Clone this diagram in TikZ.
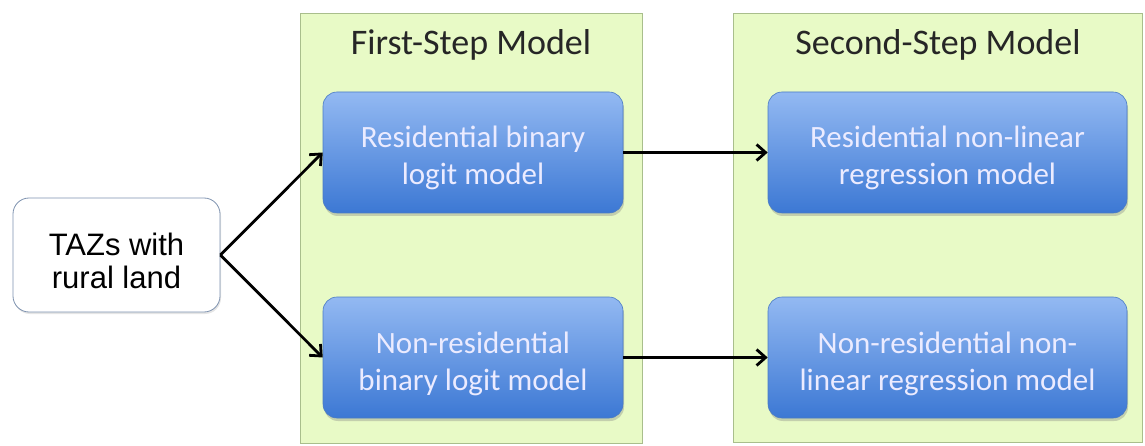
\documentclass[tikz,border=0pt]{standalone}
\usepackage{fontspec}
\setmainfont{Carlito}
\newfontfamily\arialfont{Liberation Sans}
\usetikzlibrary{arrows.meta,shadows}
\definecolor{grnfill}{HTML}{E8FAC6}
\definecolor{grnline}{HTML}{A9BE8C}
\definecolor{bluetop}{HTML}{93B9F2}
\definecolor{bluebot}{HTML}{3C78D4}
\definecolor{blueline}{HTML}{4A7BC4}
\definecolor{tazline}{HTML}{7F93B0}
\tikzset{
  panel/.style={draw=grnline, fill=grnfill, line width=0.8pt},
  model/.style={draw=blueline, line width=0.6pt, rounded corners=14pt,
    top color=bluetop, bottom color=bluebot,
    drop shadow={shadow xshift=1pt, shadow yshift=-3pt, opacity=0.35},
    text=white!92!blue, font=\fontsize{31}{37}\selectfont, align=center,
    text height=65pt, text depth=0pt,
    minimum width=300pt, minimum height=121pt, inner sep=0pt},
  taz/.style={draw=tazline, fill=white, line width=0.8pt, rounded corners=16pt,
    font=\arialfont\fontsize{31}{33}\selectfont, align=center,
    text height=66pt, text depth=0pt,
    minimum width=207pt, minimum height=114pt, inner sep=0pt,
    drop shadow={shadow xshift=1pt, shadow yshift=-2pt, opacity=0.2}},
  title/.style={font=\fontsize{36}{42}\selectfont, text=black!85},
  link/.style={-{Straight Barb[length=9pt,width=16pt,line width=2.8pt]}, line width=2.8pt, black}
}
\begin{document}
\begin{tikzpicture}[x=1pt,y=-1pt]
\useasboundingbox (0,0) rectangle (1145,446);
\fill[white] (0,0) rectangle (1145,446);
\draw[panel] (300,13) rectangle (642,443);
\draw[panel] (733,13) rectangle (1142,442);
\node[title] (t1) at (471,45) {First-Step Model};
\node[title] (t2) at (938,45) {Second-Step Model};
\node[taz] (taz) at (116.5,255) {TAZs with\\rural land};
\node[model] (rb) at (473,152.5) {Residential binary\\logit model};
\node[model] (nb) at (473,357.5) {Non-residential\\binary logit model};
\node[model, minimum width=359pt] (rr) at (947.5,152.5) {Residential non-linear\\regression model};
\node[model, minimum width=359pt] (nr) at (947.5,357.5) {Non-residential non-\\linear regression model};
\coordinate (split) at (taz.east);
\draw[link] (split) -- (rb.west);
\draw[link] (split) -- (nb.west);
\draw[link] (rb.east) -- (rr.west);
\draw[link] (nb.east) -- (nr.west);
\end{tikzpicture}
\end{document}
